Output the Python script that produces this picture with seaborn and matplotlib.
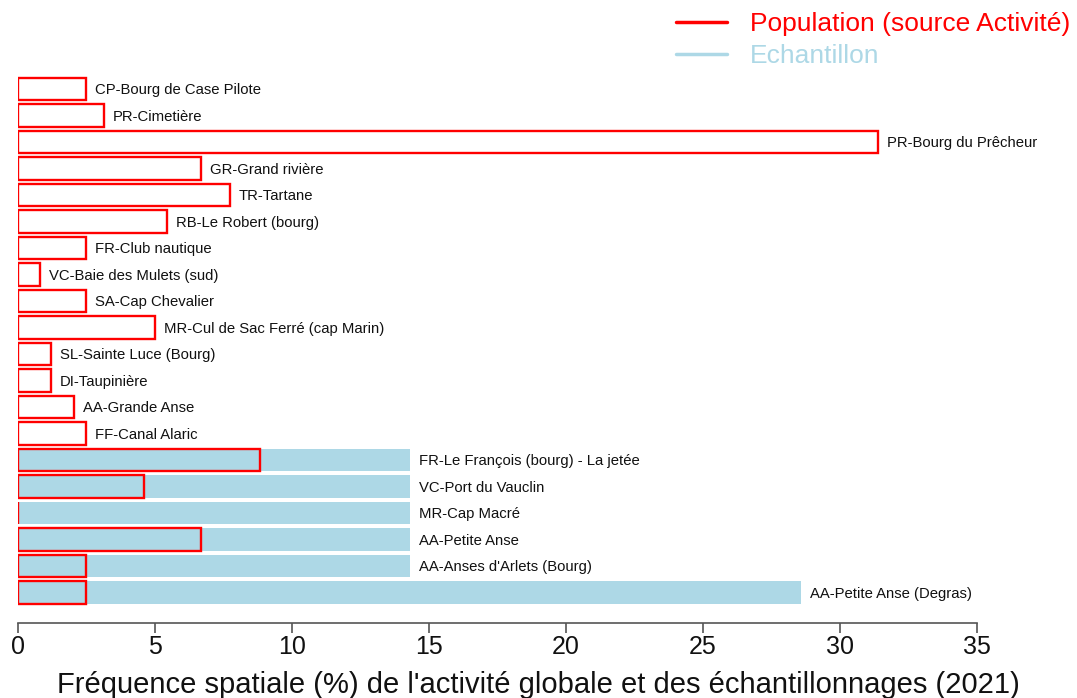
import matplotlib
matplotlib.use("Agg")
import matplotlib.pyplot as plt
from matplotlib.lines import Line2D
import seaborn as sns
import pandas as pd

sites = ["CP-Bourg de Case Pilote", "PR-Cimetière", "PR-Bourg du Prêcheur",
         "GR-Grand rivière", "TR-Tartane", "RB-Le Robert (bourg)",
         "FR-Club nautique", "VC-Baie des Mulets (sud)", "SA-Cap Chevalier",
         "MR-Cul de Sac Ferré (cap Marin)", "SL-Sainte Luce (Bourg)",
         "DI-Taupinière", "AA-Grande Anse", "FF-Canal Alaric",
         "FR-Le François (bourg) - La jetée", "VC-Port du Vauclin",
         "MR-Cap Macré", "AA-Petite Anse", "AA-Anses d'Arlets (Bourg)",
         "AA-Petite Anse (Degras)"]
population = [2.47, 3.14, 31.4, 6.67, 7.74, 5.44, 2.47, 0.79, 2.47, 5.0,
              1.2, 1.2, 2.05, 2.47, 8.82, 4.61, 0.0, 6.67, 2.47, 2.47]
echantillon = [0, 0, 0, 0, 0, 0, 0, 0, 0, 0, 0, 0, 0, 0,
               14.29, 14.29, 14.29, 14.29, 14.29, 28.57]

df = pd.DataFrame({"site": sites, "pop": population, "ech": echantillon})

sns.set_style("white")
plt.rcParams["font.family"] = ["Liberation Sans", "DejaVu Sans"]

fig = plt.figure(figsize=(10.77, 6.98), dpi=100)
ax = fig.add_axes([18 / 1077, 1 - 623 / 698, (977 - 18) / 1077, (623 - 75.75) / 698])

sns.barplot(data=df, x="ech", y="site", orient="h", color="lightblue",
            saturation=1, width=0.85, linewidth=0, ax=ax)
sns.barplot(data=df, x="pop", y="site", orient="h", fill=False,
            edgecolor="red", color="red", saturation=1, width=0.85,
            linewidth=1.7, ax=ax)

for i, row in df.iterrows():
    ax.annotate(row["site"], (max(row["pop"], row["ech"]), i),
                xytext=(6.5, -1), textcoords="offset points",
                va="center", ha="left", fontsize=10.7, color="#111111")

ax.set_xlim(0, 35)
ax.set_ylim(20.15, -0.5)
ax.set_xticks(range(0, 36, 5))
ax.set_yticks([])
ax.set_ylabel("")
ax.set_xlabel("Fréquence spatiale (%) de l'activité globale et des échantillonnages (2021)",
              fontsize=21, color="#111111")
ax.xaxis.set_label_coords((538 - 18) / 959, -0.088)
for s in ["left", "top", "right"]:
    ax.spines[s].set_visible(False)
ax.spines["bottom"].set_bounds(0, 35)
ax.spines["bottom"].set_color("#555555")
ax.spines["bottom"].set_linewidth(1.2)
ax.tick_params(axis="x", direction="out", length=7, width=1.2, color="#555555",
               pad=2, labelsize=18, labelcolor="#111111", bottom=True)
for t in ax.get_xticklabels():
    t.set_family(["Liberation Sans Narrow", "Liberation Sans"])

handles = [Line2D([0], [0], color="red", lw=2.5),
           Line2D([0], [0], color="lightblue", lw=2.5)]
fig.legend(handles, ["Population (source Activité)", "Echantillon"],
           loc="upper right", bbox_to_anchor=(1.008, 1.005), frameon=False,
           fontsize=19, labelcolor="linecolor", handlelength=1.9,
           handletextpad=0.87, labelspacing=0.3, borderaxespad=0.2)

fig.savefig("out.png", dpi=100)
